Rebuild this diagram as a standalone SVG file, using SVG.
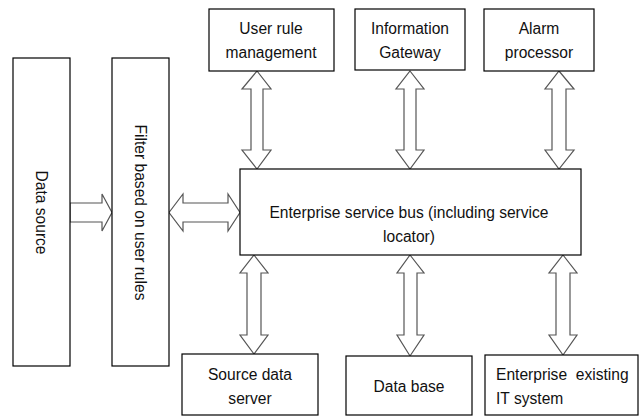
<svg xmlns="http://www.w3.org/2000/svg" width="642" height="417" viewBox="0 0 642 417">
<style>
.box{fill:#fff;stroke:#000;stroke-width:1.2}
.arr{fill:#fff;stroke:#555;stroke-width:1.2;stroke-linejoin:miter}
text{font-family:"Liberation Sans",Arial,sans-serif;font-size:15.6px;fill:#111}
.c{text-anchor:middle}
</style>
<rect width="642" height="417" fill="#fff"/>
<g id="connectors">
<path class="arr" d="M70,203 H102 V194 L112,212.5 L102,231 V222 H70 Z"/>
<path class="arr" d="M169,212.5 L183,194 V203 H228 V194 L240,212.5 L228,231 V222 H183 V231 Z"/>
<path class="arr" d="M257,71 L271,89 H263 V150 H271 L257,169 L242,150 H251 V89 H242 Z"/>
<path class="arr" d="M410,71 L424,89 H416 V150 H424 L410,169 L396,150 H404 V89 H396 Z"/>
<path class="arr" d="M559,71 L574,89 H566 V150 H574 L559,169 L545,150 H552 V89 H545 Z"/>
<path class="arr" d="M254,255 L268,273 H261 V335 H268 L254,354 L240,335 H247 V273 H240 Z"/>
<path class="arr" d="M410,255 L424,273 H417 V335 H424 L410,356 L397,335 H404 V273 H397 Z"/>
<path class="arr" d="M563,255 L577,273 H570 V335 H577 L563,355 L549,335 H556 V273 H549 Z"/>
</g>
<g id="data-source"><rect class="box" x="13" y="58" width="57" height="308"/><text class="c" transform="translate(36,212.5) rotate(90)">Data source</text></g>
<g id="filter"><rect class="box" x="112" y="58" width="57" height="308"/><text class="c" transform="translate(135,212.5) rotate(90)">Filter based on user rules</text></g>
<g id="esb"><rect class="box" x="240" y="169" width="341" height="86"/><text class="c" x="409" y="218">Enterprise service bus (including service</text><text class="c" x="409" y="242">locator)</text></g>
<g id="user-rule"><rect class="box" x="209" y="9" width="125" height="62"/><text class="c" x="271" y="34">User rule</text><text class="c" x="271" y="58">management</text></g>
<g id="info-gw"><rect class="box" x="355" y="9" width="110" height="61"/><text class="c" x="410" y="34">Information</text><text class="c" x="410" y="58">Gateway</text></g>
<g id="alarm"><rect class="box" x="484" y="9" width="110" height="62"/><text class="c" x="539" y="34">Alarm</text><text class="c" x="539" y="58">processor</text></g>
<g id="source-data"><rect class="box" x="182" y="354" width="136" height="61"/><text class="c" x="250" y="380">Source data</text><text class="c" x="250" y="404">server</text></g>
<g id="database"><rect class="box" x="346" y="356" width="126" height="59"/><text class="c" x="409" y="392">Data base</text></g>
<g id="enterprise-it"><rect class="box" x="485" y="355" width="153" height="60"/><text x="496" y="380" xml:space="preserve">Enterprise  existing</text><text x="496" y="404">IT system</text></g>
</svg>
